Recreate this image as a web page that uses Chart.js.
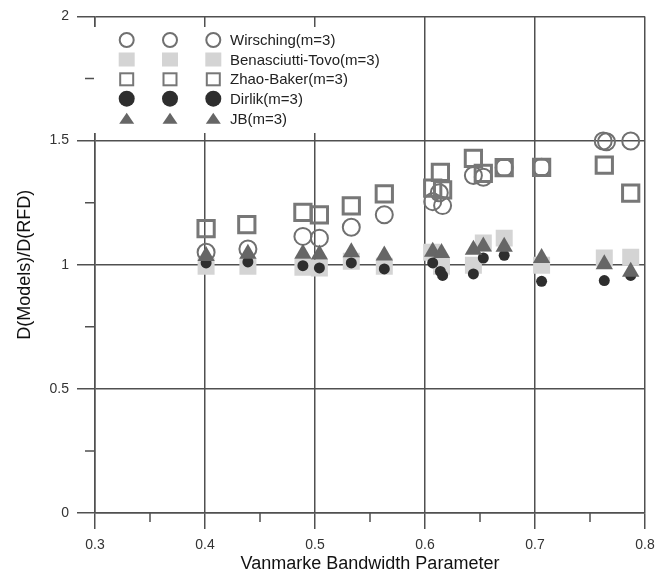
<!DOCTYPE html>
<html>
<head>
<meta charset="utf-8">
<script src="https://cdn.jsdelivr.net/npm/chart.js@4.4.1/dist/chart.umd.min.js"></script>
<style>
  html, body { margin: 0; padding: 0; background: #fff; }
  #wrap { width: 668px; height: 574px; }
</style>
</head>
<body>
<div id="wrap"><canvas id="damageChart" width="668" height="574"></canvas></div>
<script>
// Series data
const wirschingX = [0.401, 0.439, 0.489, 0.504, 0.533, 0.563, 0.607, 0.613, 0.616, 0.644, 0.653, 0.672, 0.706, 0.762, 0.765, 0.787];
const wirschingY = [1.050, 1.063, 1.114, 1.107, 1.151, 1.201, 1.254, 1.290, 1.238, 1.359, 1.352, 1.391, 1.392, 1.498, 1.495, 1.498];

const benasciuttiX = [0.401, 0.439, 0.489, 0.504, 0.533, 0.563, 0.606, 0.615, 0.644, 0.653, 0.672, 0.706, 0.763, 0.787];
const benasciuttiY = [0.994, 0.994, 0.990, 0.987, 1.014, 0.994, 1.050, 0.994, 0.998, 1.087, 1.107, 0.998, 1.027, 1.030];

const zhaoBakerX = [0.401, 0.438, 0.489, 0.504, 0.533, 0.563, 0.607, 0.614, 0.616, 0.644, 0.653, 0.672, 0.706, 0.763, 0.787];
const zhaoBakerY = [1.145, 1.161, 1.211, 1.201, 1.237, 1.285, 1.308, 1.372, 1.301, 1.428, 1.368, 1.391, 1.392, 1.401, 1.288];

const dirlikX = [0.401, 0.439, 0.489, 0.504, 0.533, 0.563, 0.607, 0.614, 0.616, 0.644, 0.653, 0.672, 0.706, 0.763, 0.787];
const dirlikY = [1.007, 1.011, 0.996, 0.987, 1.007, 0.983, 1.007, 0.973, 0.957, 0.963, 1.027, 1.038, 0.933, 0.936, 0.957];

const jbX = [0.401, 0.439, 0.489, 0.504, 0.533, 0.563, 0.607, 0.615, 0.644, 0.653, 0.672, 0.706, 0.763, 0.787];
const jbY = [1.035, 1.044, 1.044, 1.041, 1.050, 1.037, 1.052, 1.047, 1.060, 1.073, 1.072, 1.027, 1.002, 0.972];

const seriesNames = ['Wirsching(m=3)', 'Benasciutti-Tovo(m=3)', 'Zhao-Baker(m=3)', 'Dirlik(m=3)', 'JB(m=3)'];

// Axis ticks
const xTicks = [0.3, 0.4, 0.5, 0.6, 0.7, 0.8];
const xMinorTicks = [0.35, 0.45, 0.55, 0.65, 0.75];
const yTicks = [0, 0.5, 1, 1.5, 2];
const yMinorTicks = [0.25, 0.75, 1.25, 1.75];

const AXIS_COLOR = '#505050';
const FONT = '"Liberation Sans", Arial, sans-serif';

const toPoints = (xs, ys) => xs.map((x, i) => ({ x: x, y: ys[i] }));

// Minor ticks on both axes
const minorTicks = {
  id: 'minorTicks',
  afterDraw(chart) {
    const { ctx, scales: { x, y } } = chart;
    ctx.save();
    ctx.strokeStyle = AXIS_COLOR;
    ctx.lineWidth = 1.5;
    ctx.beginPath();
    xMinorTicks.forEach(v => {
      const px = x.getPixelForValue(v);
      ctx.moveTo(px, y.bottom);
      ctx.lineTo(px, y.bottom + 9);
    });
    yMinorTicks.forEach(v => {
      const py = y.getPixelForValue(v);
      ctx.moveTo(x.left - 10, py);
      ctx.lineTo(x.left, py);
    });
    ctx.stroke();
    ctx.restore();
  }
};

// Legend: three markers per row, on a white box
function drawMarker(ctx, kind, cx, cy) {
  ctx.beginPath();
  if (kind === 0) {
    ctx.arc(cx, cy, 7, 0, Math.PI * 2);
    ctx.strokeStyle = '#707070';
    ctx.lineWidth = 2;
    ctx.stroke();
  } else if (kind === 1) {
    ctx.fillStyle = '#d4d4d4';
    ctx.fillRect(cx - 8, cy - 7, 16, 14);
  } else if (kind === 2) {
    ctx.strokeStyle = '#777';
    ctx.lineWidth = 2;
    ctx.strokeRect(cx - 6.5, cy - 6, 13, 12);
  } else if (kind === 3) {
    ctx.arc(cx, cy, 8, 0, Math.PI * 2);
    ctx.fillStyle = '#2e2e2e';
    ctx.fill();
  } else {
    ctx.moveTo(cx, cy - 6);
    ctx.lineTo(cx + 7.5, cy + 5);
    ctx.lineTo(cx - 7.5, cy + 5);
    ctx.closePath();
    ctx.fillStyle = '#666';
    ctx.fill();
  }
}

const boxLegend = {
  id: 'boxLegend',
  afterDraw(chart) {
    const ctx = chart.ctx;
    ctx.save();
    ctx.fillStyle = '#fff';
    ctx.fillRect(94, 27, 310, 106);
    const rows = [40, 59.5, 79.3, 98.7, 118.7];
    const cols = [126.7, 170, 213.3];
    ctx.font = '15px ' + FONT;
    ctx.textBaseline = 'middle';
    seriesNames.forEach((name, i) => {
      cols.forEach(cx => drawMarker(ctx, i, cx, rows[i]));
      ctx.fillStyle = '#222';
      ctx.fillText(name, 230, rows[i] + 1);
    });
    ctx.restore();
  }
};

const ctx = document.getElementById('damageChart').getContext('2d');

new Chart(ctx, {
  type: 'scatter',
  data: {
    datasets: [
      {
        label: seriesNames[0],
        data: toPoints(wirschingX, wirschingY),
        pointStyle: 'circle',
        pointRadius: 8.5,
        pointHoverRadius: 8.5,
        backgroundColor: 'rgba(0,0,0,0)',
        borderColor: '#707070',
        borderWidth: 2,
        order: 3
      },
      {
        label: seriesNames[1],
        data: toPoints(benasciuttiX, benasciuttiY),
        pointStyle: 'rect',
        pointRadius: 12,
        pointHoverRadius: 12,
        backgroundColor: '#d4d4d4',
        borderColor: '#d4d4d4',
        borderWidth: 0,
        order: 4
      },
      {
        label: seriesNames[2],
        data: toPoints(zhaoBakerX, zhaoBakerY),
        pointStyle: 'rect',
        pointRadius: 11.5,
        pointHoverRadius: 11.5,
        backgroundColor: 'rgba(0,0,0,0)',
        borderColor: '#777',
        borderWidth: 3,
        order: 2
      },
      {
        label: seriesNames[3],
        data: toPoints(dirlikX, dirlikY),
        pointStyle: 'circle',
        pointRadius: 5.5,
        pointHoverRadius: 5.5,
        backgroundColor: '#2e2e2e',
        borderColor: '#2e2e2e',
        borderWidth: 0,
        order: 1
      },
      {
        label: seriesNames[4],
        data: toPoints(jbX, jbY),
        pointStyle: 'triangle',
        pointRadius: 10,
        pointHoverRadius: 10,
        backgroundColor: '#666',
        borderColor: '#666',
        borderWidth: 0,
        order: 0
      }
    ]
  },
  options: {
    responsive: false,
    animation: false,
    layout: { padding: { top: 12, right: 23, left: 0, bottom: 0 } },
    plugins: {
      legend: { display: false },
      tooltip: { enabled: false }
    },
    scales: {
      x: {
        type: 'linear',
        min: 0.3,
        max: 0.8,
        afterBuildTicks: scale => { scale.ticks = xTicks.map(v => ({ value: v })); },
        afterFit: scale => { scale.height = 61; },
        ticks: {
          padding: 8,
          color: '#333',
          font: { family: FONT, size: 14 },
          callback: v => v.toFixed(1)
        },
        grid: { color: AXIS_COLOR, lineWidth: 1.5, tickLength: 16, tickColor: AXIS_COLOR },
        border: { color: AXIS_COLOR, width: 1.5 },
        title: {
          display: true,
          text: 'Vanmarke Bandwidth Parameter',
          color: '#111',
          font: { family: FONT, size: 18 },
          padding: { top: 0, bottom: -1 }
        }
      },
      y: {
        type: 'linear',
        min: 0,
        max: 2,
        afterBuildTicks: scale => { scale.ticks = yTicks.map(v => ({ value: v })); },
        afterFit: scale => { scale.width = 95; },
        ticks: {
          padding: 8,
          color: '#333',
          font: { family: FONT, size: 14 },
          callback: v => String(+v.toFixed(1))
        },
        grid: { color: AXIS_COLOR, lineWidth: 1.5, tickLength: 18, tickColor: AXIS_COLOR },
        border: { color: AXIS_COLOR, width: 1.5 },
        title: {
          display: true,
          text: 'D(Models)/D(RFD)',
          color: '#111',
          font: { family: FONT, size: 18 },
          padding: { top: 14, bottom: 0 }
        }
      }
    }
  },
  plugins: [minorTicks, boxLegend]
});
</script>
</body>
</html>
